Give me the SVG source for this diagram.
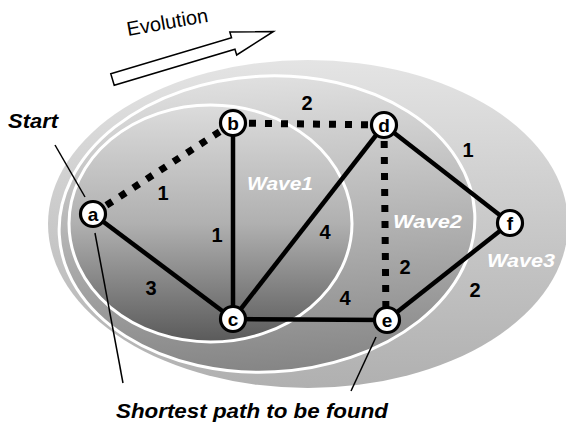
<svg xmlns="http://www.w3.org/2000/svg" width="566" height="427" viewBox="0 0 566 427">
<style>
.edge{stroke:#000;stroke-width:4.5;fill:none}
.dash{stroke:#000;stroke-width:7;stroke-dasharray:7 9;fill:none}
.ptr{stroke:#000;stroke-width:1.5;fill:none}
.node circle{fill:#fff;stroke:#000;stroke-width:3.2}
.node text{font-family:"Liberation Sans",Arial,sans-serif;font-weight:bold;font-size:19px;text-anchor:middle;fill:#000}
.w{font-family:"Liberation Sans",Arial,sans-serif;font-weight:bold;font-style:italic;font-size:18px;fill:#fff}
.num{font-family:"Liberation Sans",Arial,sans-serif;font-weight:bold;font-size:20px;text-anchor:middle;fill:#000}
.lbl{font-family:"Liberation Sans",Arial,sans-serif;font-weight:bold;font-style:italic;font-size:21px;fill:#000}
</style>
<defs>
<linearGradient id="g3" x1="0" y1="0" x2="0" y2="1">
<stop offset="0" stop-color="#e4e4e4"/><stop offset="0.5" stop-color="#c9c9c9"/><stop offset="1" stop-color="#b0b0b0"/>
</linearGradient>
<linearGradient id="g2" x1="0" y1="0" x2="0" y2="1">
<stop offset="0" stop-color="#e0e0e0"/><stop offset="0.5" stop-color="#b4b4b4"/><stop offset="1" stop-color="#858585"/>
</linearGradient>
<linearGradient id="g1" x1="0" y1="0" x2="0" y2="1">
<stop offset="0" stop-color="#dcdcdc"/><stop offset="0.5" stop-color="#b0b0b0"/><stop offset="1" stop-color="#5a5a5a"/>
</linearGradient>
</defs>
<g id="waves">
<ellipse id="wave3" cx="308" cy="224" rx="260" ry="164" fill="url(#g3)"/>
<ellipse id="wave2" cx="267" cy="224" rx="208" ry="148" fill="url(#g2)" stroke="#fff" stroke-width="3" transform="rotate(-3 267 224)"/>
<ellipse id="wave1" cx="210.5" cy="223.5" rx="141.5" ry="118.5" fill="url(#g1)" stroke="#fff" stroke-width="3"/>
<text class="w" x="247" y="190" textLength="66" lengthAdjust="spacingAndGlyphs">Wave1</text>
<text class="w" x="393" y="228" textLength="69" lengthAdjust="spacingAndGlyphs">Wave2</text>
<text class="w" x="487" y="267" textLength="68" lengthAdjust="spacingAndGlyphs">Wave3</text>
</g>
<g id="evolution">
<polygon points="0,-6 126,-6 126,-12 168,0 126,12 126,6 0,6" transform="translate(112.5,79.5) rotate(-16.6)" fill="#fff" stroke="#000" stroke-width="1.5"/>
<text x="128" y="36" transform="rotate(-10 128 36)" font-family="Liberation Sans, Arial, sans-serif" font-size="20">Evolution</text>
</g>
<g id="connectors">
<line class="dash" x1="93" y1="214" x2="233" y2="123"/>
<line class="dash" x1="233" y1="123" x2="384" y2="125"/>
<line class="dash" x1="384" y1="125" x2="386" y2="320"/>
<line class="edge" x1="93" y1="214" x2="233" y2="319"/>
<line class="edge" x1="233" y1="123" x2="233" y2="319"/>
<line class="edge" x1="233" y1="319" x2="384" y2="125"/>
<line class="edge" x1="233" y1="319" x2="387" y2="320"/>
<line class="edge" x1="384" y1="125" x2="510" y2="223"/>
<line class="edge" x1="387" y1="320" x2="510" y2="223"/>
<line class="ptr" x1="55" y1="145" x2="85" y2="197"/>
<line class="ptr" x1="95" y1="233" x2="123" y2="383"/>
<line class="ptr" x1="376" y1="337" x2="351" y2="391"/>
</g>
<g id="weights">
<text class="num" x="307" y="110">2</text>
<text class="num" x="468" y="157">1</text>
<text class="num" x="163" y="200">1</text>
<text class="num" x="217" y="242">1</text>
<text class="num" x="325" y="239">4</text>
<text class="num" x="151" y="295">3</text>
<text class="num" x="345" y="305">4</text>
<text class="num" x="405" y="274">2</text>
<text class="num" x="475" y="297">2</text>
</g>
<g id="node-a" class="node"><circle cx="93" cy="214" r="12.5"/><text x="93" y="221">a</text></g>
<g id="node-b" class="node"><circle cx="233" cy="123" r="12.5"/><text x="233" y="130">b</text></g>
<g id="node-c" class="node"><circle cx="233" cy="319" r="12.5"/><text x="233" y="326">c</text></g>
<g id="node-d" class="node"><circle cx="384" cy="125" r="12.5"/><text x="384" y="132">d</text></g>
<g id="node-e" class="node"><circle cx="387" cy="320" r="12.5"/><text x="387" y="327">e</text></g>
<g id="node-f" class="node"><circle cx="510" cy="223" r="12.5"/><text x="510" y="230">f</text></g>
<text class="lbl" x="8" y="128" textLength="50" lengthAdjust="spacingAndGlyphs">Start</text>
<text class="lbl" x="116" y="418" textLength="272" lengthAdjust="spacingAndGlyphs">Shortest path to be found</text>
</svg>
